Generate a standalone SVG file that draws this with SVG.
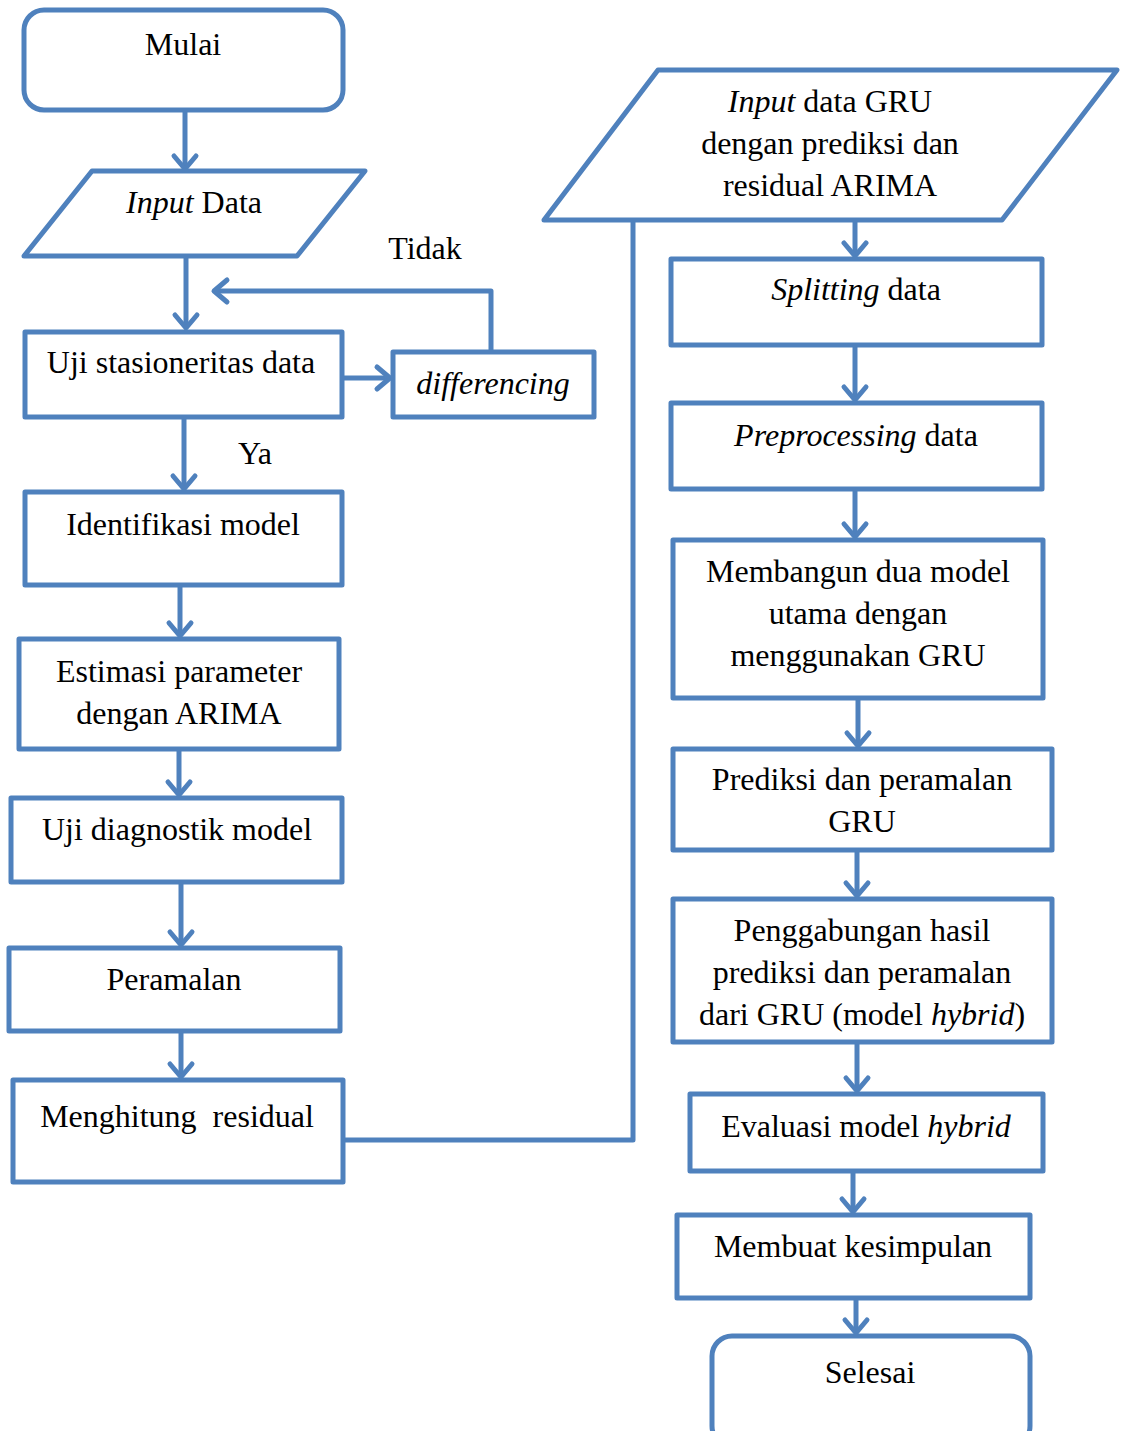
<svg xmlns="http://www.w3.org/2000/svg" width="1121" height="1431" viewBox="0 0 1121 1431">
<style>
.s{fill:#fff;stroke:#4f81bd;stroke-width:5;stroke-linejoin:round}
.c{fill:none;stroke:#4f81bd;stroke-width:5;stroke-linejoin:round}
text{font-family:"Liberation Serif","Times New Roman",serif;font-size:32px;fill:#000;text-anchor:middle}
.i{font-style:italic}
</style>
<defs>
<marker id="a" markerUnits="userSpaceOnUse" markerWidth="30" markerHeight="30" refX="0" refY="0" orient="auto" overflow="visible">
<path d="M-13,-11 L0,0 L-13,11" fill="none" stroke="#4f81bd" stroke-width="5" stroke-linecap="round" stroke-linejoin="round"/>
</marker>
</defs>
<g id="connectors">
<path class="c" d="M185,111 V169" marker-end="url(#a)"/>
<path class="c" d="M186,258 V328" marker-end="url(#a)"/>
<path class="c" d="M491,351 V291 H214" marker-end="url(#a)"/>
<path class="c" d="M343,378 H390" marker-end="url(#a)"/>
<path class="c" d="M184,419 V489" marker-end="url(#a)"/>
<path class="c" d="M180,586 V636" marker-end="url(#a)"/>
<path class="c" d="M179,750 V795" marker-end="url(#a)"/>
<path class="c" d="M181,883 V945" marker-end="url(#a)"/>
<path class="c" d="M181,1032 V1077" marker-end="url(#a)"/>
<path class="c" d="M343,1140 H633 V221"/>
<path class="c" d="M855,221 V256" marker-end="url(#a)"/>
<path class="c" d="M855,346 V400" marker-end="url(#a)"/>
<path class="c" d="M855,490 V537" marker-end="url(#a)"/>
<path class="c" d="M858,699 V746" marker-end="url(#a)"/>
<path class="c" d="M857,851 V896" marker-end="url(#a)"/>
<path class="c" d="M857,1043 V1091" marker-end="url(#a)"/>
<path class="c" d="M853,1172 V1212" marker-end="url(#a)"/>
<path class="c" d="M856,1299 V1333" marker-end="url(#a)"/>
</g>
<g id="labels">
<text x="425" y="259">Tidak</text>
<text x="255" y="464">Ya</text>
</g>
<g id="mulai"><rect class="s" x="24" y="10" width="319" height="100" rx="20"/><text x="183" y="55">Mulai</text></g>
<g id="input-data"><path class="s" d="M92,171 H365 L297,256 H24 Z"/><text x="194" y="213"><tspan class="i">Input</tspan> Data</text></g>
<g id="uji-stasioneritas"><rect class="s" x="25" y="332" width="317" height="85"/><text x="181" y="373">Uji stasioneritas data</text></g>
<g id="differencing"><rect class="s" x="393" y="352" width="201" height="65"/><text x="493" y="394" class="i">differencing</text></g>
<g id="identifikasi"><rect class="s" x="25" y="492" width="317" height="93"/><text x="183" y="535">Identifikasi model</text></g>
<g id="estimasi"><rect class="s" x="19" y="639" width="320" height="110"/><text x="179" y="682">Estimasi parameter</text><text x="179" y="724">dengan ARIMA</text></g>
<g id="uji-diagnostik"><rect class="s" x="11" y="798" width="331" height="84"/><text x="177" y="840">Uji diagnostik model</text></g>
<g id="peramalan"><rect class="s" x="9" y="948" width="331" height="83"/><text x="174" y="990">Peramalan</text></g>
<g id="residual"><rect class="s" x="13" y="1080" width="330" height="102"/><text x="177" y="1127" xml:space="preserve">Menghitung  residual</text></g>
<g id="input-gru"><path class="s" d="M658,70 H1117 L1002,220 H544 Z"/><text x="830" y="112"><tspan class="i">Input</tspan> data GRU</text><text x="830" y="154">dengan prediksi dan</text><text x="830" y="196">residual ARIMA</text></g>
<g id="splitting"><rect class="s" x="671" y="259" width="371" height="86"/><text x="856" y="300"><tspan class="i">Splitting</tspan> data</text></g>
<g id="preprocessing"><rect class="s" x="671" y="403" width="371" height="86"/><text x="856" y="446"><tspan class="i">Preprocessing</tspan> data</text></g>
<g id="membangun"><rect class="s" x="673" y="540" width="370" height="158"/><text x="858" y="582">Membangun dua model</text><text x="858" y="624">utama dengan</text><text x="858" y="666">menggunakan GRU</text></g>
<g id="prediksi"><rect class="s" x="673" y="749" width="379" height="101"/><text x="862" y="790">Prediksi dan peramalan</text><text x="862" y="832">GRU</text></g>
<g id="penggabungan"><rect class="s" x="673" y="899" width="379" height="143"/><text x="862" y="941">Penggabungan hasil</text><text x="862" y="983">prediksi dan peramalan</text><text x="862" y="1025">dari GRU (model <tspan class="i">hybrid</tspan>)</text></g>
<g id="evaluasi"><rect class="s" x="690" y="1094" width="353" height="77"/><text x="866" y="1137">Evaluasi model <tspan class="i">hybrid</tspan></text></g>
<g id="kesimpulan"><rect class="s" x="677" y="1215" width="353" height="83"/><text x="853" y="1257">Membuat kesimpulan</text></g>
<g id="selesai"><rect class="s" x="712" y="1336" width="318" height="110" rx="20"/><text x="870" y="1383">Selesai</text></g>
</svg>
